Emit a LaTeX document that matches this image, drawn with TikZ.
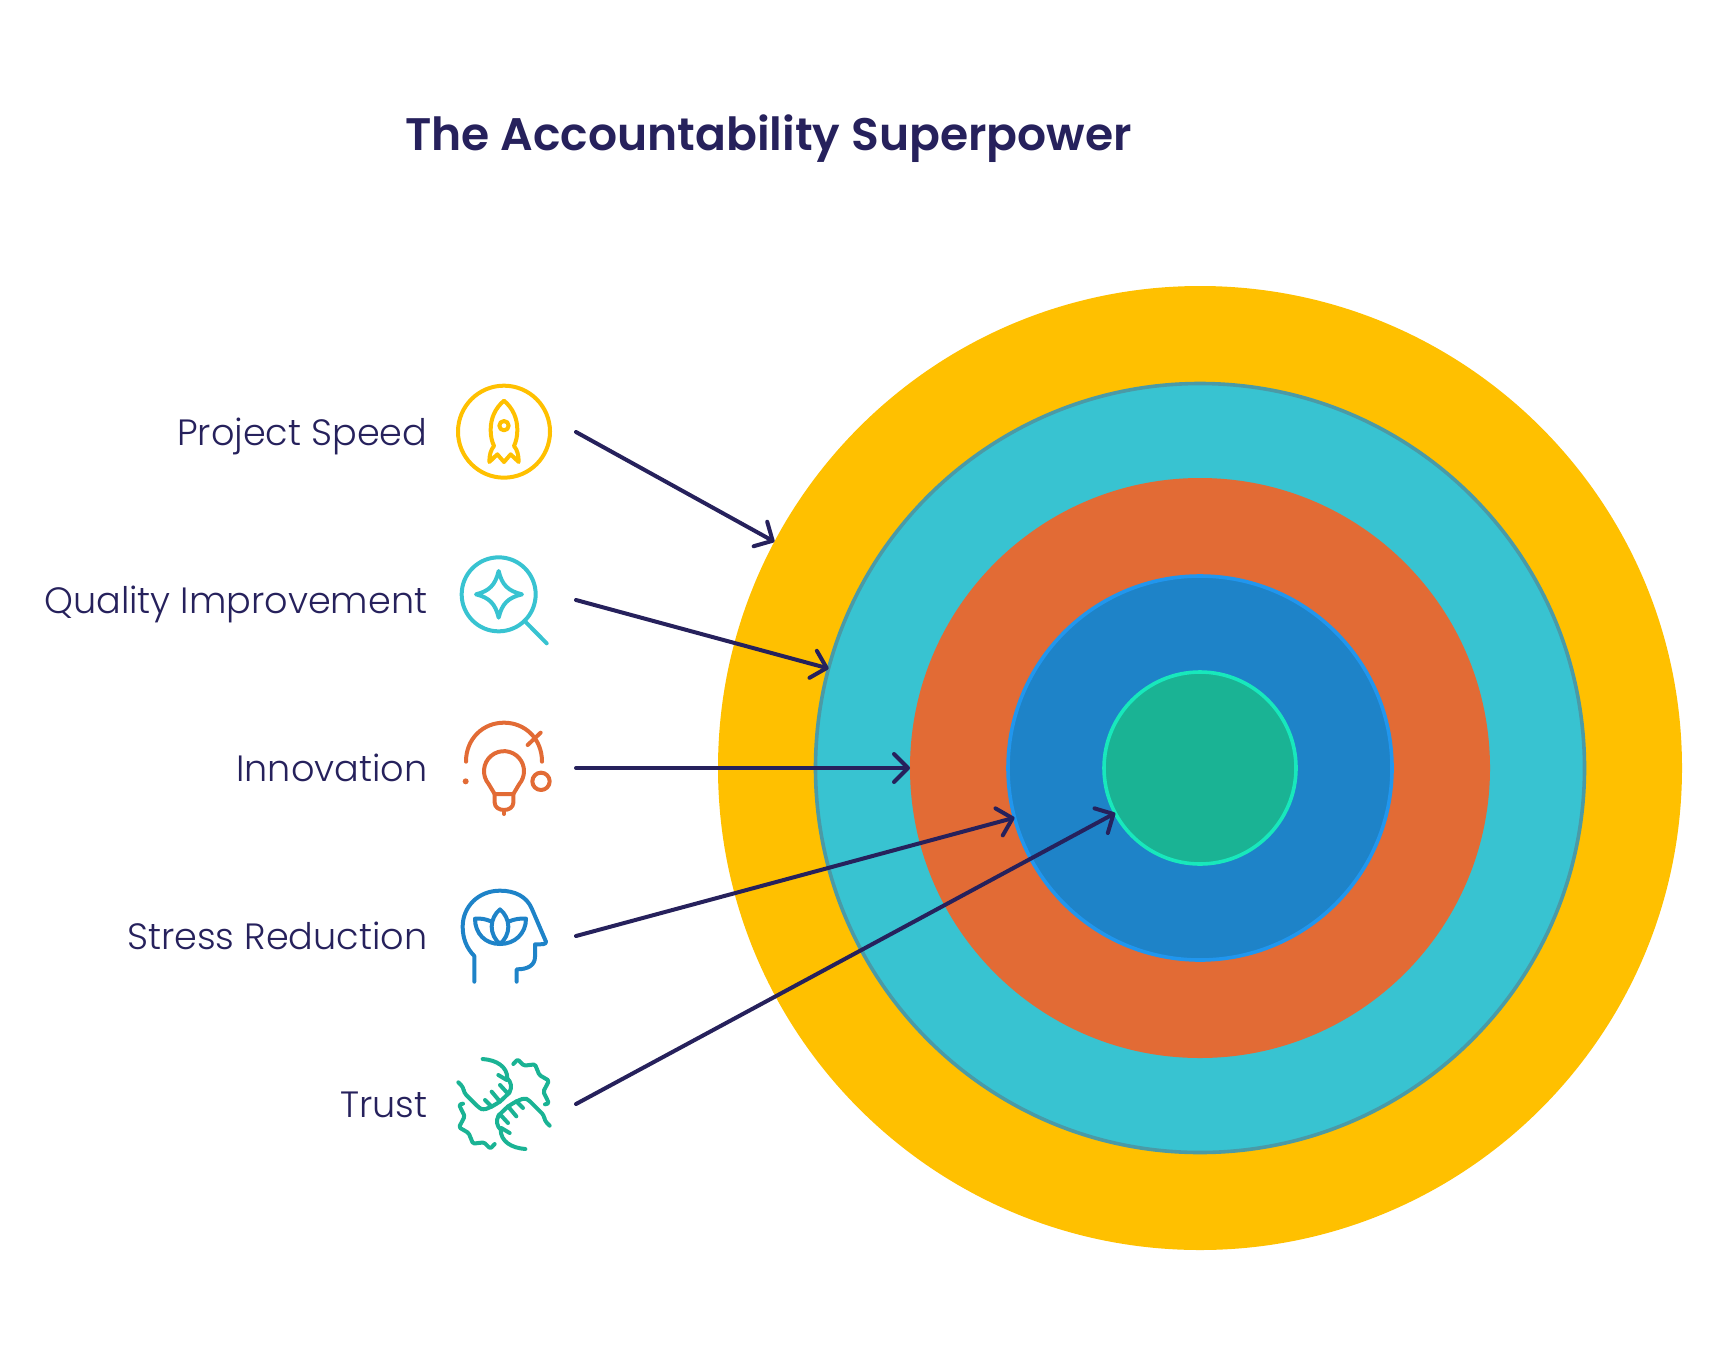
\documentclass[tikz,border=0pt]{standalone}
\usepackage{fontspec}
\usetikzlibrary{arrows.meta}
\newfontfamily\labfont{Poppins Light}
\newfontfamily\titfont{Poppins SemiBold}
\definecolor{navy}{HTML}{26215C}
\definecolor{cyellow}{HTML}{FFC000}
\definecolor{cteal}{HTML}{38C3D1}
\definecolor{cteale}{HTML}{4B9AA6}
\definecolor{corange}{HTML}{E26B35}
\definecolor{cblue}{HTML}{1E83C8}
\definecolor{cbluee}{HTML}{2196EE}
\definecolor{cgreen}{HTML}{1AB394}
\definecolor{cgreene}{HTML}{18E8BC}
\tikzset{
  ring/.style={circle,inner sep=0pt,outer sep=0pt,line width=3.6pt},
  lab/.style={anchor=base east,inner sep=0pt,text=navy,font=\labfont\fontsize{36.6}{40}\selectfont},
  conn/.style={draw=navy,line width=4pt,line cap=round,line join=round,
    -{Straight Barb[length=14pt,width=28pt,round,line width=4pt]}},
  icon/.style={line width=4pt,line cap=round,line join=round,fill=none},
  zoomed/.style={shift={#1},x=0.33333pt,y=-0.33333pt}
}
\begin{document}
\begin{tikzpicture}[x=1pt,y=-1pt]
\useasboundingbox (0,0) rectangle (1728,1344);
\node[ring,fill=cyellow,minimum size=964pt] (c1) at (1200,768) {};
\node[ring,fill=cteal,draw=cteale,minimum size=769pt] (c2) at (1200,768) {};
\node[ring,fill=corange,minimum size=580pt] (c3) at (1200,768) {};
\node[ring,fill=cblue,draw=cbluee,minimum size=384pt] (c4) at (1200,768) {};
\node[ring,fill=cgreen,draw=cgreene,minimum size=192pt] (c5) at (1200,768) {};

\node[anchor=base west,inner sep=0pt,text=navy,font=\titfont\fontsize{45.6}{50}\selectfont] (title) at (405,150) {The Accountability Superpower};

\node[lab] (l1) at (427.5,445) {Project Speed};
\node[lab] (l2) at (427.5,613) {Quality Improvement};
\node[lab] (l3) at (427.5,781) {Innovation};
\node[lab] (l4) at (427.5,949) {Stress Reduction};
\node[lab] (l5) at (427.5,1117) {Trust};

\coordinate (s1) at (576,432);
\coordinate (s2) at (576,600);
\coordinate (s3) at (576,768);
\coordinate (s4) at (576,936);
\coordinate (s5) at (576,1104);
\draw[conn] (s1) -- (c1.152);
\draw[conn] (s2) -- (c2.165);
\draw[conn] (s3) -- (c3.180);
\draw[conn] (s4) -- (c4.195);
\draw[conn] (s5) -- (c5.208);

% rocket
\begin{scope}[zoomed={(420,360)},icon,draw=cyellow]
\draw (252,215) circle[radius=138];
\draw (252,122) .. controls (225,145) and (212,175) .. (212,210) .. controls (212,230) and (216,245) .. (222,258) .. controls (212,270) and (208,285) .. (208,306) -- (232,283) -- (252,306) -- (272,283) -- (296,306) .. controls (296,285) and (292,270) .. (282,258) .. controls (288,245) and (292,230) .. (292,210) .. controls (292,175) and (279,145) .. (252,122) -- cycle;
\draw (252,197) circle[radius=14];
\end{scope}
% magnifier
\begin{scope}[zoomed={(420,360)},icon,draw=cteal]
\draw (236,703) circle[radius=111];
\draw (318,787) -- (380,850);
\draw (236,633) .. controls (246,675) and (264,693) .. (306,703) .. controls (264,713) and (246,731) .. (236,773) .. controls (226,731) and (208,713) .. (168,703) .. controls (208,693) and (226,675) .. (236,633) -- cycle;
\end{scope}
% bulb
\begin{scope}[zoomed={(420,700)},icon,draw=corange]
\draw (138,185) .. controls (138,115) and (190,68) .. (252,68) .. controls (314,68) and (366,115) .. (366,185);
\draw (323,135) -- (362,98);
\fill[corange] (137,244) circle[radius=9];
\draw (363,244) circle[radius=26];
\draw (224,282) -- (206,252) arc (140:400:60) -- (280,282) -- cycle;
\draw (224,282) -- (224,308) .. controls (224,322) and (238,330) .. (252,330) .. controls (266,330) and (280,322) .. (280,308) -- (280,282);
\draw (252,330) -- (252,342);
\end{scope}
% head
\begin{scope}[zoomed={(420,700)},icon,draw=cblue]
\draw (163,845) -- (163,768) .. controls (140,745) and (128,715) .. (128,680) .. controls (128,620) and (175,572) .. (240,572) .. controls (285,572) and (320,590) .. (335,625) -- (378,725) .. controls (378,733) and (370,733) .. (345,733) -- (345,770) .. controls (345,795) and (325,808) .. (290,808) -- (290,845);
\draw (240,628) .. controls (225,640) and (215,660) .. (215,680) .. controls (215,700) and (225,720) .. (240,732) .. controls (255,720) and (265,700) .. (265,680) .. controls (265,660) and (255,640) .. (240,628) -- cycle;
\draw (215,665) .. controls (200,658) and (182,654) .. (165,656) .. controls (165,700) and (195,732) .. (240,732) .. controls (285,732) and (318,700) .. (318,656) .. controls (300,654) and (282,658) .. (265,665);
\end{scope}
% hands
\begin{scope}[zoomed={(420,700)},icon,draw=cgreen]
\foreach \r in {0,180}{
\begin{scope}[rotate around={\r:(252,1212)}]
\draw[rounded corners=1.5pt] (280,1092) -- (293,1078) -- (312,1097) -- (345,1093) -- (358,1125) -- (387,1142) -- (370,1175) -- (387,1210) -- (375,1213);
\draw (188,1077) .. controls (230,1080) and (262,1100) .. (262,1135) .. controls (272,1145) and (278,1160) .. (268,1178);
\draw[rounded corners=3pt] (268,1178) -- (240,1205) -- (215,1220) -- (190,1230) -- (178,1224) -- (132,1178) -- (130,1162) -- (115,1147);
\draw (235,1125) -- (260,1140);
\draw (240,1155) -- (263,1180);
\draw (215,1175) -- (240,1205);
\draw (195,1200) -- (215,1220);
\end{scope}
}
\end{scope}
\end{tikzpicture}
\end{document}
